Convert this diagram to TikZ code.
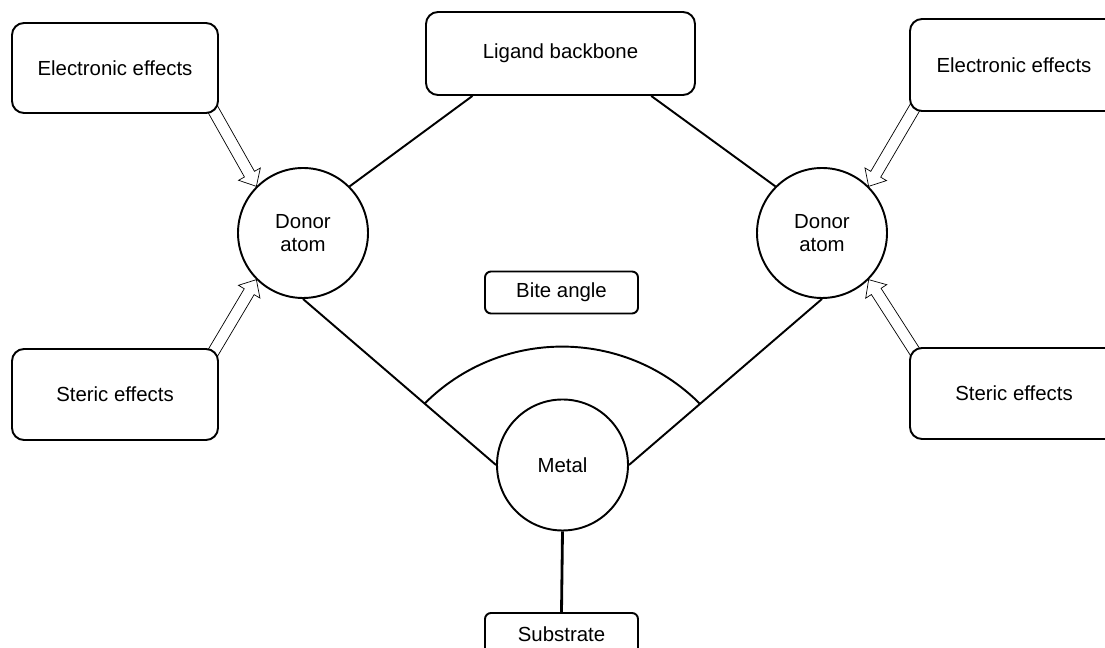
\documentclass[tikz,border=0pt]{standalone}
\usepackage{fontspec}
\setmainfont{Liberation Sans}
\usetikzlibrary{calc}
\pgfdeclarelayer{background}
\pgfsetlayers{background,main}
% open block arrow from #1 to #2
\newcommand\hollowarrow[2]{%
  \coordinate (hb) at ($(#2)!2.8mm!(#1)$);
  \draw[fill=white] ($(#1)!1.15mm!90:(#2)$) -- ($(hb)!1.15mm!-90:(#1)$) -- ($(hb)!2.5mm!-90:(#1)$) -- (#2)
    -- ($(hb)!2.5mm!90:(#1)$) -- ($(hb)!1.15mm!90:(#1)$) -- ($(#1)!1.15mm!-90:(#2)$) -- cycle;}
\begin{document}
\begin{tikzpicture}[x=0.2mm,y=-0.2mm,line width=1.1pt,font=\fontsize{11.6}{13.3}\selectfont,
 box/.style={draw,rounded corners=2.4mm,fill=white,inner sep=0pt,align=center},
 tag/.style={box,rounded corners=1.2mm,minimum width=30.6mm,minimum height=8.4mm},
 atom/.style={draw,circle,fill=white,inner sep=0pt,minimum size=26mm,align=center}]
\useasboundingbox (0,0) rectangle (1105,648);
\node[box,minimum width=41.2mm,minimum height=18mm] (eL) at (115,68) {Electronic effects};
\node[box,minimum width=41.6mm,minimum height=18.4mm] (eR) at (1014,65) {Electronic effects};
\node[box,minimum width=53.8mm,minimum height=16.6mm] (bb) at (560.5,53.5) {Ligand backbone};
\node[atom] (dl) at (303,233) {Donor\\atom};
\node[atom] (dr) at (822,233) {Donor\\atom};
\node[tag] (bite) at (561.5,292.5) {Bite angle};
\node[box,minimum width=41.2mm,minimum height=18.2mm] (sL) at (115,394.5) {Steric effects};
\node[box,minimum width=41.6mm,minimum height=18.2mm] (sR) at (1014,393.5) {Steric effects};
\node[atom,minimum size=26.2mm] (m) at (562.5,465) {Metal};
\node[tag] (sub) at (561.5,634) {Substrate};
\coordinate (bbL) at ($(bb.south west)!0.175!(bb.south east)$);
\coordinate (bbR) at ($(bb.south west)!0.835!(bb.south east)$);
\draw (bbL) -- (dl.45);
\draw (bbR) -- (dr.135);
\draw (dl.south) -- (m.west);
\draw (dr.south) -- (m.east);
\draw[line width=1.6pt] (m.south) -- (sub.north);
\coordinate (arcL) at ($(dl.south)!0.63!(m.west)$);
\draw (arcL) arc[start angle=135,end angle=45,radius=38.9mm];
\begin{pgfonlayer}{background}
\coordinate (a1) at ($(eL.south east)+(-8,-8)$);
\coordinate (a2) at ($(sL.north east)+(-8,8)$);
\coordinate (a3) at ($(eR.south west)+(8,-8)$);
\coordinate (a4) at ($(sR.north west)+(8,8)$);
\hollowarrow{a1}{dl.135}
\hollowarrow{a2}{dl.225}
\hollowarrow{a3}{dr.45}
\hollowarrow{a4}{dr.315}
\end{pgfonlayer}
\end{tikzpicture}
\end{document}
